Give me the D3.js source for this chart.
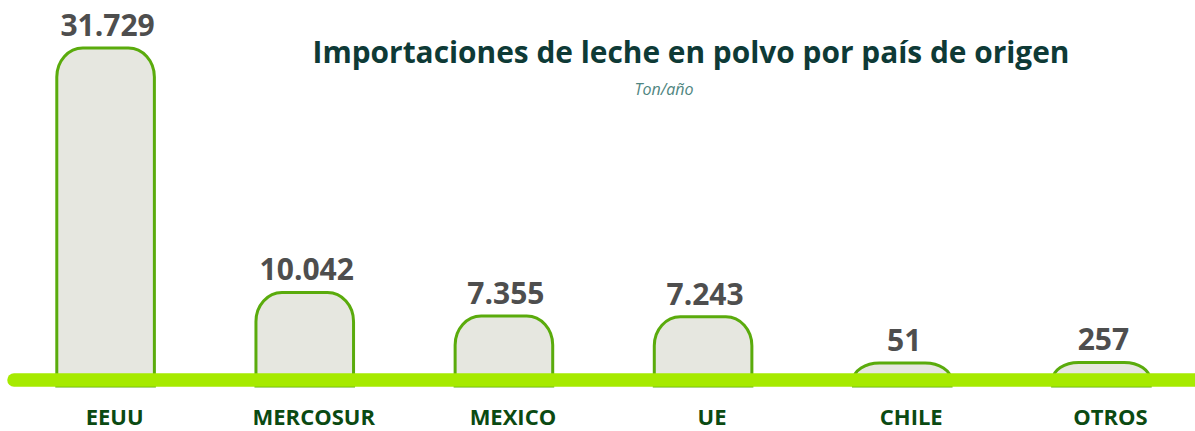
<!DOCTYPE html>
<html>
<head>
<meta charset="utf-8">
<script src="https://cdn.jsdelivr.net/npm/d3@7"></script>
<style>
  html, body { margin: 0; padding: 0; background: #ffffff; }
  svg { display: block; }
</style>
</head>
<body>
<svg id="chart" width="1195" height="431"></svg>
<script>
const categories = ["EEUU", "MERCOSUR", "MEXICO", "UE", "CHILE", "OTROS"];
const values = [31729, 10042, 7355, 7243, 51, 257];
const valueLabels = ["31.729", "10.042", "7.355", "7.243", "51", "257"];
const titleText = "Importaciones de leche en polvo por país de origen";
const subtitleText = "Ton/año";

const W = 1195, H = 431;
const lineY = 380;
const barBottom = 386;

const svg = d3.select("#chart");

const x = d3.scaleBand()
  .domain(categories)
  .range([7, 1200])
  .paddingInner(0.51)
  .paddingOuter(0.25);

const y = d3.scalePow()
  .exponent(1.3)
  .domain([0, d3.max(values)])
  .range([363, 48]);

const data = categories.map((c, i) => ({ cat: c, value: values[i], label: valueLabels[i] }));

function barPath(d) {
  const x0 = x(d.cat), w = x.bandwidth();
  const top = y(d.value);
  const rx = 26;
  const ry = Math.min(29, lineY - top);
  return `M${x0},${barBottom} L${x0},${top + ry} ` +
    `A${rx},${ry} 0 0 1 ${x0 + rx},${top} ` +
    `L${x0 + w - rx},${top} ` +
    `A${rx},${ry} 0 0 1 ${x0 + w},${top + ry} ` +
    `L${x0 + w},${barBottom} Z`;
}

svg.append("g").selectAll("path")
  .data(data)
  .join("path")
  .attr("d", barPath)
  .attr("fill", "#e6e7e0")
  .attr("stroke", "#5aab0c")
  .attr("stroke-width", 3);

// baseline
svg.append("line")
  .attr("x1", 14).attr("x2", W + 20)
  .attr("y1", lineY).attr("y2", lineY)
  .attr("stroke", "#a6ea00")
  .attr("stroke-width", 13.5)
  .attr("stroke-linecap", "round");

// value labels
svg.append("g").selectAll("text")
  .data(data)
  .join("text")
  .attr("x", d => x(d.cat) + x.bandwidth() / 2 + 2)
  .attr("y", d => y(d.value) - 12)
  .attr("text-anchor", "middle")
  .attr("font-family", "'Open Sans', sans-serif")
  .attr("font-weight", 700)
  .attr("font-size", 30)
  .attr("fill", "#4e4e4e")
  .text(d => d.label);

// category labels
svg.append("g").selectAll("text")
  .data(data)
  .join("text")
  .attr("x", d => x(d.cat) + x.bandwidth() / 2 + 9)
  .attr("y", 425)
  .attr("text-anchor", "middle")
  .attr("font-family", "'Open Sans', sans-serif")
  .attr("font-weight", 700)
  .attr("font-size", 22)
  .attr("fill", "#0b4a12")
  .text(d => d.cat);

// title
svg.append("text")
  .attr("x", 691)
  .attr("y", 63)
  .attr("text-anchor", "middle")
  .attr("font-family", "'Open Sans', sans-serif")
  .attr("font-weight", 700)
  .attr("font-size", 31)
  .attr("fill", "#0e3a36")
  .attr("textLength", 757)
  .attr("lengthAdjust", "spacingAndGlyphs")
  .text(titleText);

svg.append("text")
  .attr("x", 664)
  .attr("y", 95)
  .attr("text-anchor", "middle")
  .attr("font-family", "'Open Sans', sans-serif")
  .attr("font-style", "italic")
  .attr("font-weight", 400)
  .attr("font-size", 16)
  .attr("fill", "#4f8580")
  .text(subtitleText);
</script>
</body>
</html>
